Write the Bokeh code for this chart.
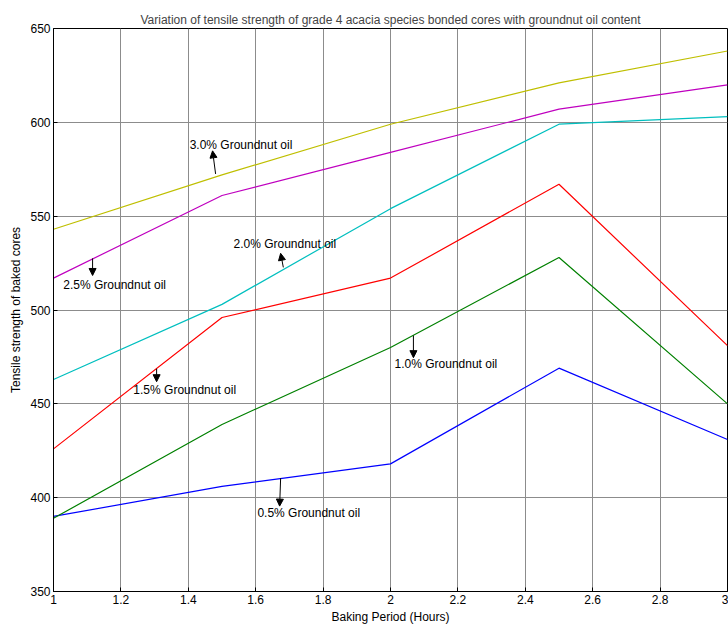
from bokeh.plotting import figure
from bokeh.models import ColumnDataSource, Arrow, NormalHead, LabelSet, FixedTicker, Range1d
from bokeh.core.properties import value
from bokeh.embed import file_html
from bokeh.resources import INLINE

FONT = "'Liberation Sans Narrow', 'Liberation Sans', Arial, sans-serif"

hours = [1.0, 1.5, 2.0, 2.5, 3.0]
oil_05 = [390, 406, 418, 469, 431]
oil_10 = [389, 439, 480, 528, 450]
oil_15 = [426, 496, 517, 567, 481]
oil_20 = [463, 503, 554, 599, 603]
oil_25 = [517, 561, 584, 607, 620]
oil_30 = [543, 572, 599, 621, 638]

series = [
    (oil_05, "#0000ff"),
    (oil_10, "#008000"),
    (oil_15, "#ff0000"),
    (oil_20, "#00bfbf"),
    (oil_25, "#bf00bf"),
    (oil_30, "#bfbf00"),
]

# annotation texts and their placement (data coords)
ann_text = ["3.0% Groundnut oil", "2.0% Groundnut oil", "2.5% Groundnut oil",
            "1.5% Groundnut oil", "1.0% Groundnut oil", "0.5% Groundnut oil"]
ann_tx = [1.404, 1.534, 1.029, 1.237, 2.012, 1.605]
ann_ty = [588.0, 535.0, 513.1, 457.5, 471.4, 391.7]
arr_x0 = [1.481, 1.682, 1.116, 1.306, 2.068, 1.674]
arr_y0 = [572.5, 522.7, 527.5, 468.7, 486.4, 410.4]
arr_x1 = [1.472, 1.674, 1.116, 1.306, 2.068, 1.671]
arr_y1 = [584.8, 530.2, 518.4, 461.8, 474.6, 395.5]

x_ticks = [1, 1.2, 1.4, 1.6, 1.8, 2, 2.2, 2.4, 2.6, 2.8, 3]
y_ticks = [350, 400, 450, 500, 550, 600, 650]

p = figure(width=728, height=628, output_backend="svg", toolbar_location=None,
           x_range=Range1d(1, 3), y_range=Range1d(350, 650),
           min_border_left=53, min_border_right=1, min_border_top=28, min_border_bottom=37,
           title="Variation of tensile strength of grade 4 acacia species bonded cores with groundnut oil content")

p.title.align = "center"
p.title.text_font = FONT
p.title.text_font_size = "12px"
p.title.text_font_style = "normal"
p.title.standoff = 3

for vals, col in series:
    p.line(hours, vals, line_color=col, line_width=1.2)

p.xaxis.ticker = FixedTicker(ticks=x_ticks)
p.yaxis.ticker = FixedTicker(ticks=y_ticks)
p.xaxis.major_label_overrides = {1: "1", 2: "2", 3: "3"}
for ax in (p.xaxis, p.yaxis):
    ax.major_tick_in = 4
    ax.major_tick_out = 0
    ax.minor_tick_in = 0
    ax.minor_tick_out = 0
    ax.axis_line_color = "black"
    ax.major_tick_line_color = "black"
    ax.major_label_text_font = FONT
    ax.major_label_text_font_size = "12px"
    ax.major_label_text_color = "black"
    ax.axis_label_text_font = FONT
    ax.axis_label_text_font_size = "12px"
    ax.axis_label_text_font_style = "normal"
    ax.axis_label_text_color = "black"
    ax.major_label_standoff = 3
    ax.axis_label_standoff = 3

p.xaxis.axis_label = "Baking Period (Hours)"
p.yaxis.axis_label = "Tensile strength of baked cores"
p.yaxis.axis_label_text_font = "'Liberation Sans', Arial, sans-serif"
p.yaxis.axis_label_text_font_size = "12px"
p.yaxis.axis_label_standoff = 4

p.xgrid.ticker = FixedTicker(ticks=x_ticks)
p.ygrid.ticker = FixedTicker(ticks=y_ticks)
p.grid.grid_line_color = "#8c8c8c"
p.grid.grid_line_alpha = 1.0
p.grid.grid_line_width = 1

p.outline_line_color = "black"
p.outline_line_width = 1
p.outline_line_alpha = 1.0

asrc = ColumnDataSource(dict(x0=arr_x0, y0=arr_y0, x1=arr_x1, y1=arr_y1))
p.add_layout(Arrow(end=NormalHead(size=7, fill_color="black", line_color="black"),
                   x_start="x0", y_start="y0", x_end="x1", y_end="y1",
                   line_color="black", line_width=1, source=asrc))

tsrc = ColumnDataSource(dict(x=ann_tx, y=ann_ty, t=ann_text))
p.add_layout(LabelSet(x="x", y="y", text="t", source=tsrc, text_align="left",
                      text_baseline="middle", text_font=value(FONT),
                      text_font_size="12px", text_color="black"))

open("out.html", "w").write(file_html(p, INLINE))
